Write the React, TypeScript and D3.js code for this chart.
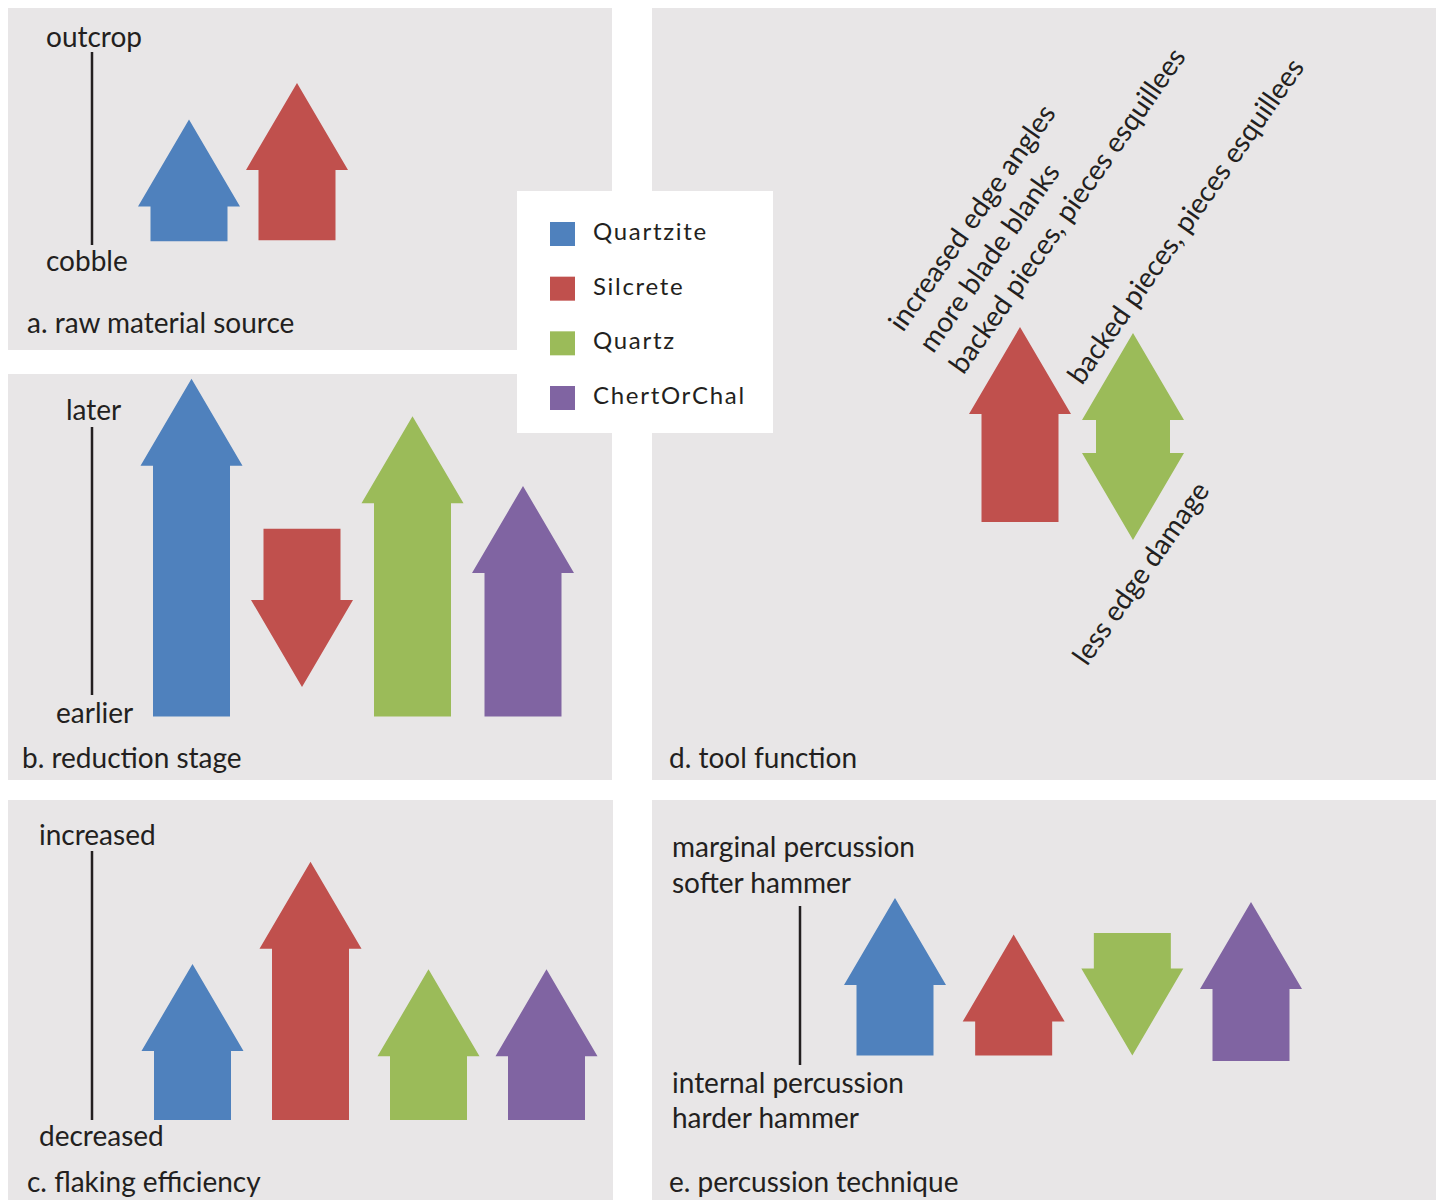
import React from "react";
import * as d3 from "d3";

// ---------- data ----------
const materials = ["Quartzite", "Silcrete", "Quartz", "ChertOrChal"];
const materialColors = ["#4f81bd", "#c0504d", "#9bbb59", "#8064a2"];

// a. raw material source (0 = cobble, 100 = outcrop)
const sourceMaterials = ["Quartzite", "Silcrete"];
const sourceFrom = [2, 2.5];
const sourceTo = [65, 84];

// b. reduction stage (0 = earlier, 100 = later)
const stageMaterials = ["Quartzite", "Silcrete", "Quartz", "ChertOrChal"];
const stageFrom = [-8, 62, -8, -8];
const stageTo = [118, 3, 104, 78];

// c. flaking efficiency (0 = decreased, 100 = increased)
const efficiencyMaterials = ["Quartzite", "Silcrete", "Quartz", "ChertOrChal"];
const efficiencyFrom = [0, 0, 0, 0];
const efficiencyTo = [58, 96, 56, 56];

// d. tool function
const functionMaterials = ["Silcrete", "Quartz"];
const functionFrom = [26, 20];
const functionTo = [91, 89];
const functionKind = ["single", "double"];

// e. percussion technique (0 = internal/harder, 100 = marginal/softer)
const techniqueMaterials = ["Quartzite", "Silcrete", "Quartz", "ChertOrChal"];
const techniqueFrom = [6, 6, 83, 2.5];
const techniqueTo = [105, 82, 6, 102.5];

const functionNotesLeft = ["increased edge angles", "more blade blanks", "backed pieces, pieces esquillees"];
const functionNoteRight = "backed pieces, pieces esquillees";
const functionNoteBottom = "less edge damage";

// ---------- style ----------
const PANEL_BG = "#e8e6e7";
const FONT = "Lato, 'Noto Sans', sans-serif";
const FS = 28;
const HEAD_H = 87;
const HEAD_HALF = 51;
const SHAFT_HALF = 38.5;

const line = d3.line<[number, number]>();

function arrowPath(cx: number, y0: number, y1: number, kind: string) {
  if (kind === "double") {
    const top = Math.min(y0, y1);
    const bot = Math.max(y0, y1);
    const pts: [number, number][] = [
      [cx, top],
      [cx + HEAD_HALF, top + HEAD_H],
      [cx + SHAFT_HALF - 1.5, top + HEAD_H],
      [cx + SHAFT_HALF - 1.5, bot - HEAD_H],
      [cx + HEAD_HALF, bot - HEAD_H],
      [cx, bot],
      [cx - HEAD_HALF, bot - HEAD_H],
      [cx - SHAFT_HALF + 1.5, bot - HEAD_H],
      [cx - SHAFT_HALF + 1.5, top + HEAD_H],
      [cx - HEAD_HALF, top + HEAD_H],
    ];
    return line(pts) + "Z";
  }
  const dir = Math.sign(y1 - y0);
  const hb = y1 - dir * HEAD_H;
  const pts: [number, number][] = [
    [cx - SHAFT_HALF, y0],
    [cx - SHAFT_HALF, hb],
    [cx - HEAD_HALF, hb],
    [cx, y1],
    [cx + HEAD_HALF, hb],
    [cx + SHAFT_HALF, hb],
    [cx + SHAFT_HALF, y0],
  ];
  return line(pts) + "Z";
}

type PanelProps = {
  mats: string[];
  from: number[];
  to: number[];
  kinds?: string[];
  xRange: [number, number];
  yRange: [number, number];
};

function Arrows({ mats, from, to, kinds, xRange, yRange }: PanelProps) {
  const x = d3.scalePoint<string>().domain(mats).range(xRange);
  const y = d3.scaleLinear().domain([0, 100]).range(yRange);
  return (
    <g>
      {mats.map((m, i) => (
        <path
          key={m}
          d={arrowPath(x(m) as number, y(from[i]), y(to[i]), kinds ? kinds[i] : "single")}
          fill={materialColors[materials.indexOf(m)]}
        />
      ))}
    </g>
  );
}

const T = (p: { x: number; y: number; children: React.ReactNode; anchor?: string }) => (
  <text x={p.x} y={p.y} fontFamily={FONT} fontSize={FS} fill="#231f20" textAnchor={p.anchor || "start"}>
    {p.children}
  </text>
);

export default function App() {
  const legendY = d3.scalePoint<string>().domain(materials).range([222, 386]);
  const ROT = -55;
  return (
    <svg width={1438} height={1200} style={{ position: "absolute", left: 0, top: 0, background: "#fff" }}>
      {/* panels */}
      <rect x={8} y={8} width={604} height={342} fill={PANEL_BG} />
      <rect x={8} y={374} width={604} height={406} fill={PANEL_BG} />
      <rect x={8} y={800} width={605} height={400} fill={PANEL_BG} />
      <rect x={652} y={8} width={784} height={772} fill={PANEL_BG} />
      <rect x={652} y={800} width={784} height={400} fill={PANEL_BG} />

      {/* a */}
      <line x1={92} x2={92} y1={52} y2={245} stroke="#231f20" strokeWidth={2.5} />
      <T x={46} y={47}>outcrop</T>
      <T x={46} y={271}>cobble</T>
      <T x={27} y={333}>a. raw material source</T>
      <Arrows mats={sourceMaterials} from={sourceFrom} to={sourceTo} xRange={[189, 297]} yRange={[245, 52]} />

      {/* b */}
      <line x1={92} x2={92} y1={427} y2={695} stroke="#231f20" strokeWidth={2.5} />
      <T x={66} y={420}>later</T>
      <T x={56} y={723}>earlier</T>
      <T x={22} y={768}>b. reduction stage</T>
      <Arrows mats={stageMaterials} from={stageFrom} to={stageTo} xRange={[191.5, 523]} yRange={[695, 427]} />

      {/* c */}
      <line x1={92} x2={92} y1={851} y2={1120} stroke="#231f20" strokeWidth={2.5} />
      <T x={39} y={845}>increased</T>
      <T x={39} y={1146}>decreased</T>
      <T x={27} y={1192}>c. flaking efficiency</T>
      <Arrows mats={efficiencyMaterials} from={efficiencyFrom} to={efficiencyTo} xRange={[192.5, 546.5]} yRange={[1120, 851]} />

      {/* d */}
      <Arrows
        mats={functionMaterials}
        from={functionFrom}
        to={functionTo}
        kinds={functionKind}
        xRange={[1020, 1133]}
        yRange={[600, 300]}
      />
      <text transform={`translate(903,333) rotate(${ROT})`} fontFamily={FONT} fontSize={FS} fill="#231f20">
        {functionNotesLeft.map((s, i) => (
          <tspan key={i} x={0} dy={i === 0 ? 0 : 37}>
            {s}
          </tspan>
        ))}
      </text>
      <text transform={`translate(1082,386) rotate(${ROT})`} fontFamily={FONT} fontSize={FS} fill="#231f20">
        {functionNoteRight}
      </text>
      <text transform={`translate(1087,667) rotate(${ROT})`} fontFamily={FONT} fontSize={FS} fill="#231f20">
        {functionNoteBottom}
      </text>
      <T x={669} y={768}>d. tool function</T>

      {/* e */}
      <line x1={800} x2={800} y1={906} y2={1065} stroke="#231f20" strokeWidth={2.5} />
      <T x={672} y={857}>marginal percussion</T>
      <T x={672} y={893}>softer hammer</T>
      <T x={672} y={1093}>internal percussion</T>
      <T x={672} y={1128}>harder hammer</T>
      <T x={669} y={1192}>e. percussion technique</T>
      <Arrows mats={techniqueMaterials} from={techniqueFrom} to={techniqueTo} xRange={[895, 1251]} yRange={[1065, 906]} />

      {/* legend */}
      <rect x={517} y={191} width={256} height={242} fill="#ffffff" />
      {materials.map((m, i) => (
        <g key={m}>
          <rect x={550} y={legendY(m) as number} width={25} height={24} fill={materialColors[i]} />
          <text
            x={593}
            y={(legendY(m) as number) + 18}
            fontFamily={FONT}
            fontSize={24}
            letterSpacing={1.7}
            fill="#231f20"
          >
            {m}
          </text>
        </g>
      ))}
    </svg>
  );
}
